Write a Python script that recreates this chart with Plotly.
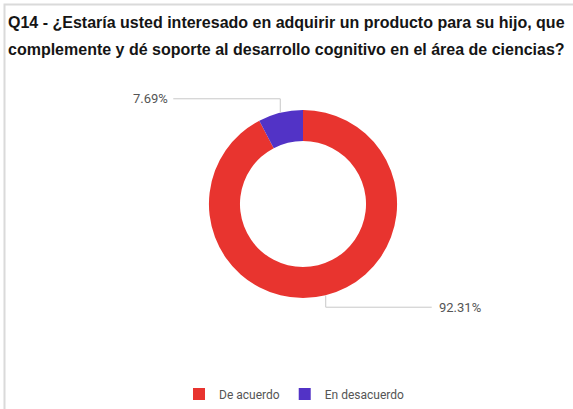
import math
import plotly.graph_objects as go

# Survey answers
labels = ["De acuerdo", "En desacuerdo"]
values = [92.31, 7.69]
colors = ["#E8342F", "#5233C6"]

title_lines = [
    "Q14 - ¿Estaría usted interesado en adquirir un producto para su hijo, que",
    "complemente y dé soporte al desarrollo cognitivo en el área de ciencias?",
]

W, H = 573, 409
cx, cy, R = 303, 206, 95  # donut centre and outer radius, in pixels

fig = go.Figure(
    go.Pie(
        labels=labels,
        values=values,
        hole=0.67,
        sort=False,
        direction="clockwise",
        rotation=0,
        marker=dict(colors=colors, line=dict(width=0)),
        textinfo="none",
        hoverinfo="label+percent",
        domain=dict(x=[(cx - R) / W, (cx + R) / W], y=[1 - (cy + R) / H, 1 - (cy - R) / H]),
    )
)


def px(x):
    return x / W


def py(y):
    return 1 - y / H


shapes = []
annotations = []

# Leader lines and percentage labels, anchored at each slice's mid-angle
total = sum(values)
start = 0.0
for v in values:
    mid = start + v / total * 360 / 2
    start += v / total * 360
    a = math.radians(mid)
    x0 = cx + R * math.sin(a)
    y0 = cy - R * math.cos(a)
    right = math.sin(a) >= 0
    y1 = y0 + 12 if math.cos(a) < 0 else y0 - 14
    x1 = x0 + 106 if right else x0 - 107
    path = f"M {px(x0)},{py(y0)} L {px(x0)},{py(y1)} L {px(x1)},{py(y1)}"
    shapes.append(dict(type="path", xref="paper", yref="paper", path=path,
                       line=dict(color="#C8C8C8", width=1)))
    annotations.append(dict(
        x=px(x1 + (5 if right else -3)), y=py(y1), xref="paper", yref="paper",
        text=f"{v:.2f}%", showarrow=False,
        xanchor="left" if right else "right", yanchor="middle",
        font=dict(family="Roboto, Arial, sans-serif", size=13, color="#555555"),
    ))

# Two-line question title
for i, line in enumerate(title_lines):
    annotations.append(dict(
        x=px(6), y=py(22.5 + 27 * i), xref="paper", yref="paper",
        text=f"<b>{line}</b>", showarrow=False, xanchor="left", yanchor="middle",
        font=dict(family="Liberation Sans, Arial, sans-serif", size=16, color="#151515"),
    ))

# Card border (top and left edges visible)
shapes.append(dict(type="rect", xref="paper", yref="paper",
                   x0=px(4.5), x1=1.2, y0=-0.2, y1=py(4.5),
                   line=dict(color="#DADADA", width=2), fillcolor="rgba(0,0,0,0)", layer="below"))

fig.update_layout(
    width=W, height=H,
    margin=dict(l=0, r=0, t=0, b=0),
    paper_bgcolor="white", plot_bgcolor="white",
    showlegend=True,
    legend=dict(orientation="h", x=px(294), xanchor="center", y=py(398), yanchor="middle",
                font=dict(family="Roboto, Arial, sans-serif", size=12, color="#555555"),
                itemsizing="constant", itemwidth=30),
    shapes=shapes,
    annotations=annotations,
)

fig.write_html("out.html")
